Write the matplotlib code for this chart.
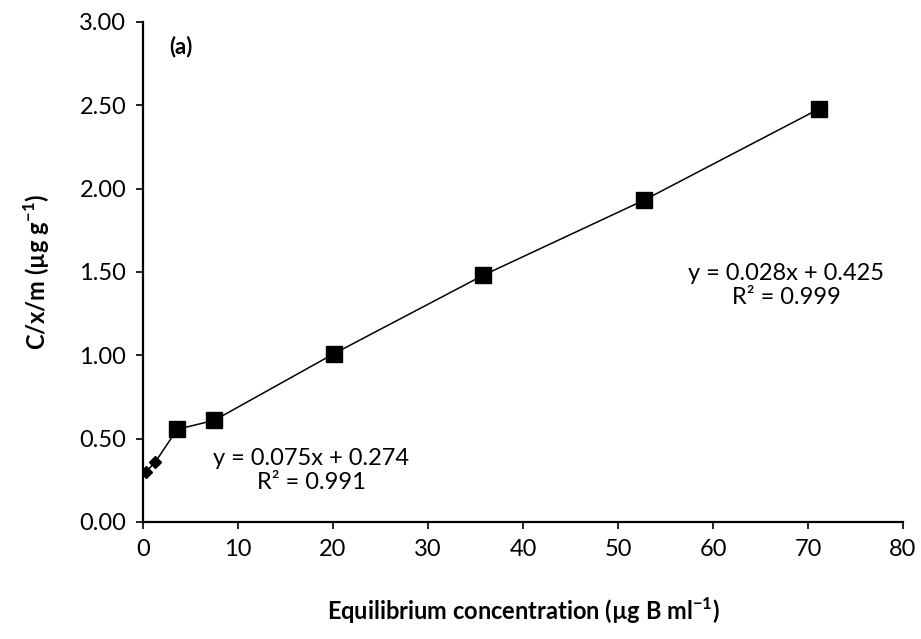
import matplotlib
matplotlib.use('Agg')
import matplotlib.pyplot as plt

# low concentration points (diamonds) and the rest (squares)
x_low = [0.3, 1.3]
y_low = [0.30, 0.36]
x_high = [3.6, 7.5, 20.1, 35.8, 52.7, 71.2]
y_high = [0.556, 0.61, 1.01, 1.48, 1.93, 2.48]

eq_low = 'y = 0.075x + 0.274\nR² = 0.991'
eq_high = 'y = 0.028x + 0.425\nR² = 0.999'

plt.rcParams['font.family'] = ['Lato', 'DejaVu Sans']
plt.rcParams['mathtext.fontset'] = 'custom'
plt.rcParams['mathtext.rm'] = 'Lato'
plt.rcParams['mathtext.bf'] = 'Lato:bold'

fs = 17
fig = plt.figure(figsize=(9.21, 6.39), dpi=100)
ax = fig.add_axes([143 / 921, 1 - 522 / 639, 760 / 921, 500 / 639])

# one polyline through every point, markers on top
ax.plot(x_low + x_high, y_low + y_high, color='black', linewidth=1.1, zorder=2)
ax.plot(x_low, y_low, linestyle='none', marker='D', markersize=6,
        color='black', zorder=3)
ax.plot(x_high, y_high, linestyle='none', marker='s', markersize=11,
        color='black', zorder=3)

ax.set_xlim(0, 80)
ax.set_ylim(0, 3)
ax.set_xticks(range(0, 81, 10))
ax.set_yticks([0, 0.5, 1.0, 1.5, 2.0, 2.5, 3.0])
ax.set_yticklabels(['{0:.2f}'.format(v) for v in ax.get_yticks()])

for s in ['top', 'right']:
    ax.spines[s].set_visible(False)
for s in ['left', 'bottom']:
    ax.spines[s].set_linewidth(1.6)
ax.tick_params(direction='out', length=5, width=1.2, labelsize=fs, pad=7)

ax.text(2.8, 2.85, '(a)', fontsize=fs - 1, fontweight='bold', ha='left', va='center')
ax.text(17.7, 0.31, eq_low, fontsize=fs, ha='center', va='center', linespacing=1.2)
ax.text(67.7, 1.42, eq_high, fontsize=fs, ha='center', va='center', linespacing=1.2)

ax.set_xlabel(r'Equilibrium concentration (µg B ml$^{\mathbf{-1}}$)',
              fontsize=fs, fontweight='bold', labelpad=26)
ax.set_ylabel(r'C/x/m (µg g$^{\mathbf{-1}}$)',
              fontsize=fs, fontweight='bold', labelpad=20)

fig.savefig('out.png', dpi=100)
